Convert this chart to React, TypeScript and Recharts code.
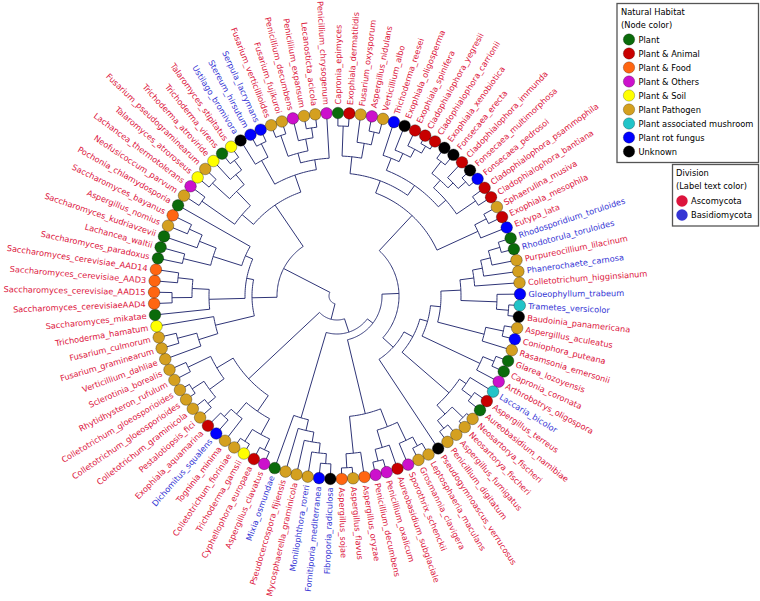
import React from 'react';
import { ComposedChart, Line, Scatter, XAxis, YAxis } from 'recharts';

// ---------- data ----------
const leafNames: string[] = [
  'Rhodosporidium_toruloides', 'Rhodotorula_toruloides', 'Purpureocillium_lilacinum', 'Phanerochaete_carnosa',
  'Colletotrichum_higginsianum', 'Gloeophyllum_trabeum', 'Trametes_versicolor', 'Baudoinia_panamericana',
  'Aspergillus_aculeatus', 'Coniophora_puteana', 'Rasamsonia_emersonii', 'Glarea_lozoyensis',
  'Capronia_coronata', 'Arthrobotrys_oligospora', 'Laccaria_bicolor', 'Aspergillus_terreus',
  'Aureobasidium_namibiae', 'Neosartorya_fischeri', 'Neosartorya_fischeri', 'Aspergillus_fumigatus',
  'Penicillium_digitatum', 'Pseudogymnoascus_verrucosus', 'Leptosphaeria_maculans', 'Grosmannia_clavigera',
  'Sporothrix_schenckii', 'Aureobasidium_subglaciale', 'Penicillium_oxalicum', 'Penicillium_decumbens',
  'Aspergillus_oryzae', 'Aspergillus_flavus', 'Aspergillus_sojae', 'Fibroporia_radiculosa',
  'Fomitiporia_mediterranea', 'Moniliophthora_roreri', 'Mycosphaerella_graminicola', 'Pseudocercospora_fijiensis',
  'Mixia_osmundae', 'Aspergillus_clavatus', 'Cyphellophora_europaea', 'Trichoderma_gamsii',
  'Colletotrichum_fioriniae', 'Togninia_minima', 'Dichomitus_squalens', 'Exophiala_aquamarina',
  'Pestalotiopsis_fici', 'Colletotrichum_graminicola', 'Colletotrichum_gloeosporioides', 'Colletotrichum_gloeosporioides',
  'Rhytidhysteron_rufulum', 'Sclerotinia_borealis', 'Verticillium_dahliae', 'Fusarium_graminearum',
  'Fusarium_culmorum', 'Trichoderma_hamatum', 'Saccharomyces_mikatae', 'Saccharomyces_cerevisiaeAAD4',
  'Saccharomyces_cerevisiae_AAD15', 'Saccharomyces_cerevisiae_AAD3', 'Saccharomyces_cerevisiae_AAD14', 'Saccharomyces_paradoxus',
  'Lachancea_waltii', 'Saccharomyces_kudriavzevii', 'Aspergillus_nomius', 'Saccharomyces_bayanus',
  'Pochonia_chlamydosporia', 'Neofusicoccum_parvum', 'Lachancea_thermotolerans', 'Talaromyces_atroroseus',
  'Fusarium_pseudograminearum', 'Trichoderma_atroviride', 'Trichoderma_virens', 'Talaromyces_stipitatus',
  'Ustilago_bromivora', 'Stereum_hirsutum', 'Serpula_lacrymans', 'Fusarium_verticillioides',
  'Fusarium_fujikuroi', 'Penicillium_decumbens', 'Penicillium_expansum', 'Lecanosticta_acicola',
  'Penicillium_chrysogenum', 'Capronia_epimyces', 'Exophiala_dermatitidis', 'Fusarium_oxysporum',
  'Aspergillus_nidulans', 'Verticillium_albo', 'Trichoderma_reesei', 'Exophiala_oligosperma',
  'Exophiala_spinifera', 'Cladophialophora_yegresii', 'Cladophialophora_carrionii', 'Exophiala_xenobiotica',
  'Fonsecaea_erecta', 'Cladophialophora_immunda', 'Fonsecaea_multimorphosa', 'Fonsecaea_pedrosoi',
  'Cladophialophora_psammophila', 'Cladophialophora_bantiana', 'Sphaerulina_musiva', 'Exophiala_mesophila',
  'Eutypa_lata',
];

// habitat code per leaf: G Plant, R Plant&Animal, O Plant&Food, M Plant&Others, Y Plant&Soil,
// P Plant Pathogen, C mushroom, B rot fungus, K unknown
const leafHabitat: string[] = [
  'G', 'G', 'P', 'P', 'P', 'B', 'C', 'K', 'P', 'B', 'P', 'G', 'G', 'M', 'C', 'R', 'G', 'P', 'P', 'P',
  'P', 'K', 'P', 'P', 'M', 'R', 'M', 'M', 'O', 'P', 'O', 'K', 'B', 'P', 'P', 'P', 'G', 'M', 'R', 'Y',
  'P', 'P', 'B', 'R', 'P', 'P', 'P', 'P', 'P', 'P', 'P', 'P', 'P', 'Y', 'G', 'O', 'O', 'O', 'O', 'G',
  'G', 'G', 'P', 'O', 'G', 'P', 'M', 'Y', 'P', 'Y', 'G', 'Y', 'K', 'B', 'B', 'P', 'P', 'M', 'P', 'P',
  'M', 'G', 'R', 'P', 'M', 'P', 'B', 'K', 'R', 'R', 'R', 'K', 'K', 'R', 'K', 'B', 'R', 'R', 'P', 'R',
  'B',
];

// leaves whose label is Basidiomycota (others Ascomycota)
const basidioLeaves: number[] = [0, 1, 3, 5, 6, 14, 31, 32, 33, 36, 42, 72, 73, 74];

const habitatCodes = ['G', 'R', 'O', 'M', 'Y', 'P', 'C', 'B', 'K'];
const habitatNames = [
  'Plant', 'Plant & Animal', 'Plant & Food', 'Plant & Others', 'Plant & Soil',
  'Plant Pathogen', 'Plant associated mushroom', 'Plant rot fungus', 'Unknown',
];
const habitatColors = [
  '#0b6b0b', '#c80000', '#ff6611', '#cc11cc', '#ffff00',
  '#d4a020', '#22c4c8', '#0000ff', '#000000',
];
const divisionNames = ['Ascomycota', 'Basidiomycota'];
const divisionColors = ['#dc143c', '#3434d4'];

// internal nodes: [id, radius (node depth), child A, child B]; numbers are leaf indices
type Child = number | string;
const treeNodes: [string, number, Child, Child][] = [
  // right side
  ['a01', 170, 0, 1], ['a012', 158, 'a01', 2], ['a0123', 148, 'a012', 3], ['a04', 138, 'a0123', 4],
  ['a67', 172, 6, 7], ['a57', 160, 5, 'a67'], ['aRA', 124, 'a04', 'a57'],
  ['a89', 170, 8, 9], ['a810', 152, 'a89', 10], ['aRB', 104, 'aRA', 'a810'],
  ['a1112', 170, 11, 12], ['a1113', 158, 'a1112', 13], ['aRC', 94, 'aRB', 'a1113'],
  ['a1516', 168, 15, 16], ['a1416', 156, 14, 'a1516'], ['a1718', 175, 17, 18], ['a1920', 170, 19, 20],
  ['a1720', 160, 'a1718', 'a1920'], ['a1420', 148, 'a1416', 'a1720'], ['aRD', 86, 'aRC', 'a1420'],
  ['aRE', 76, 'aRD', 21],
  // upper right
  ['a9899', 168, 98, 99], ['a98100', 155, 'a9899', 100],
  ['a8182', 170, 81, 82], ['a8485', 168, 84, 85], ['a8385', 155, 83, 'a8485'], ['aBYa', 140, 'a8182', 'a8385'],
  ['a8990', 174, 89, 90], ['a8890', 166, 88, 'a8990'], ['a8790', 157, 87, 'a8890'], ['a8690', 148, 86, 'a8790'],
  ['a9192', 170, 91, 92], ['a9495', 172, 94, 95], ['a9395', 162, 93, 'a9495'], ['a9195', 155, 'a9192', 'a9395'],
  ['a9697', 168, 96, 97], ['a9197', 145, 'a9195', 'a9697'], ['aBYb', 135, 'a8690', 'a9197'],
  ['aBY', 123, 'aBYa', 'aBYb'], ['aUR', 110, 'aBY', 'a98100'], ['aNR', 62, 'aUR', 'aRE'],
  // bottom
  ['a2930', 172, 29, 30], ['a2830', 158, 28, 'a2930'], ['a2627', 170, 26, 27], ['a2527', 158, 25, 'a2627'],
  ['a2223', 170, 22, 23], ['a2224', 160, 'a2223', 24], ['a2227', 140, 'a2224', 'a2527'], ['aB2', 121, 'a2227', 'a2830'],
  ['a3132', 168, 31, 32], ['a3133', 158, 'a3132', 33], ['a3134', 148, 'a3133', 34], ['a3135', 138, 'a3134', 35],
  ['aB1', 127, 'a3135', 36],
  // lower left
  ['a3738', 170, 37, 38], ['a3940', 172, 39, 40], ['a3740', 158, 'a3738', 'a3940'],
  ['a4243', 165, 42, 43], ['a4143', 155, 41, 'a4243'], ['aL2', 140, 'a3740', 'a4143'],
  ['a4445', 168, 44, 45], ['a4647', 172, 46, 47], ['a4447', 158, 'a4445', 'a4647'],
  ['a4849', 165, 48, 49], ['aL1', 140, 'a4447', 'a4849'], ['aL', 121, 'aL2', 'aL1'],
  // upper left
  ['a5152', 165, 51, 52], ['a5052', 145, 50, 'a5152'], ['aF', 125, 'a5052', 53],
  ['a5556', 165, 55, 56], ['a5758', 160, 57, 58], ['a5558', 145, 'a5556', 'a5758'], ['aS1', 128, 54, 'a5558'],
  ['a5960', 158, 59, 60], ['a6263', 162, 62, 63], ['a6163', 148, 61, 'a6263'], ['a5963', 130, 'a5960', 'a6163'],
  ['aS2', 100, 'a5963', 64], ['aS', 92, 'aS1', 'aS2'], ['aSAC', 85, 'aF', 'aS'],
  ['a6566', 165, 65, 66], ['a6768', 168, 67, 68], ['a7071', 170, 70, 71], ['a6971', 158, 69, 'a7071'],
  ['a6771', 145, 'a6768', 'a6971'], ['aT1', 125, 'a6566', 'a6771'],
  ['a7374', 170, 73, 74], ['a7274', 155, 72, 'a7374'], ['a7576', 170, 75, 76], ['a7879', 170, 78, 79],
  ['a7779', 160, 77, 'a7879'], ['a7579', 148, 'a7576', 'a7779'], ['a7580', 138, 'a7579', 80],
  ['aT2', 128, 'a7274', 'a7580'], ['aTOP', 110, 'aT1', 'aT2'], ['aUL', 60, 'aSAC', 'aTOP'],
  // root
  ['aS3', 45, 'aB2', 'aNR'], ['aS2x', 38, 'aB1', 'aS3'], ['aQ', 24, 'aL', 'aS2x'], ['root', 8, 'aUL', 'aQ'],
];

// ---------- layout ----------
const N = leafNames.length;
const STEP = 360 / N;
const FIRST_LEAF = 81;
const FIRST_ANGLE = -89.7;
const LEAF_R = 183;
const LINE_COLOR = '#2f3577';
const FONT = '"DejaVu Sans", Verdana, sans-serif';

const leafAngle = (i: number) => FIRST_ANGLE + STEP * ((i - FIRST_LEAF + N) % N);
const toXY = (r: number, deg: number) => {
  const a = (deg * Math.PI) / 180;
  return { x: r * Math.cos(a), y: r * Math.sin(a) };
};

const nodeInfo: Record<string, { r: number; angle: number }> = {};
const childInfo = (c: Child) =>
  typeof c === 'number' ? { r: LEAF_R, angle: leafAngle(c) } : nodeInfo[c];

const branches = treeNodes.map(([id, r, ca, cb]) => {
  const A = childInfo(ca);
  const B = childInfo(cb);
  nodeInfo[id] = { r, angle: (A.angle + B.angle) / 2 };
  const pts = [toXY(A.r, A.angle)];
  const n = Math.max(2, Math.ceil(Math.abs(B.angle - A.angle) / 1.2));
  for (let k = 0; k <= n; k++) pts.push(toXY(r, A.angle + ((B.angle - A.angle) * k) / n));
  pts.push(toXY(B.r, B.angle));
  return { id, pts };
});

const leafData = leafNames.map((name, i) => {
  const angle = leafAngle(i);
  const p = toXY(LEAF_R, angle);
  return {
    ...p,
    name,
    angle,
    color: habitatColors[habitatCodes.indexOf(leafHabitat[i])],
    textColor: divisionColors[basidioLeaves.includes(i) ? 1 : 0],
  };
});

const LeafShape = (props: any) => {
  const { cx, cy, payload } = props;
  const a = payload.angle;
  const right = Math.cos((a * Math.PI) / 180) > 0;
  const rot = right ? a : a - 180;
  return (
    <g>
      <text
        x={right ? cx + 8.5 : cx - 8.5}
        y={cy}
        transform={`rotate(${rot} ${cx} ${cy})`}
        textAnchor={right ? 'start' : 'end'}
        dominantBaseline="central"
        fontFamily={FONT}
        fontSize={8.2}
        fill={payload.textColor}
      >
        {payload.name}
      </text>
      <circle cx={cx} cy={cy} r={5.8} fill={payload.color} stroke="rgba(0,0,0,0.45)" strokeWidth={0.7} />
    </g>
  );
};

const LEG_FS = 8.3;
const Legends = () => (
  <svg width={760} height={601} style={{ position: 'absolute', left: 0, top: 0, pointerEvents: 'none' }}>
    <rect x={617} y={3.5} width={141.5} height={159} fill="#fff" stroke="#555" strokeWidth={1.3} />
    <text x={621} y={12} dominantBaseline="central" fontFamily={FONT} fontSize={LEG_FS} fill="#000">Natural Habitat</text>
    <text x={621} y={24.5} dominantBaseline="central" fontFamily={FONT} fontSize={LEG_FS} fill="#000">(Node color)</text>
    {habitatNames.map((h, k) => (
      <g key={h}>
        <circle cx={629} cy={39.5 + 14 * k} r={5.7} fill={habitatColors[k]} stroke="rgba(0,0,0,0.4)" strokeWidth={0.6} />
        <text x={638.5} y={39.5 + 14 * k} dominantBaseline="central" fontFamily={FONT} fontSize={LEG_FS} fill="#000">{h}</text>
      </g>
    ))}
    <rect x={672.5} y={164.5} width={86} height={61.5} fill="#fff" stroke="#555" strokeWidth={1.3} />
    <text x={676} y={173} dominantBaseline="central" fontFamily={FONT} fontSize={LEG_FS} fill="#000">Division</text>
    <text x={676} y={185.5} dominantBaseline="central" fontFamily={FONT} fontSize={LEG_FS} fill="#000">(Label text color)</text>
    {divisionNames.map((d, k) => (
      <g key={d}>
        <circle cx={682} cy={201 + 14 * k} r={5.7} fill={divisionColors[k]} />
        <text x={691} y={201 + 14 * k} dominantBaseline="central" fontFamily={FONT} fontSize={LEG_FS} fill="#000">{d}</text>
      </g>
    ))}
  </svg>
);

export default function App() {
  return (
    <div style={{ position: 'absolute', left: 0, top: 0, width: 760, height: 601, background: '#fff' }}>
      <style>{'body{margin:0}'}</style>
      <ComposedChart width={760} height={601} margin={{ top: 0, right: 0, bottom: 0, left: 0 }}>
        <XAxis type="number" dataKey="x" domain={[-337, 423]} hide allowDataOverflow />
        <YAxis type="number" dataKey="y" domain={[-296, 305]} reversed hide allowDataOverflow />
        {branches.map((b) => (
          <Line
            key={b.id}
            data={b.pts}
            dataKey="y"
            type="linear"
            stroke={LINE_COLOR}
            strokeWidth={1}
            dot={false}
            activeDot={false}
            isAnimationActive={false}
            legendType="none"
          />
        ))}
        <Scatter data={leafData} dataKey="y" shape={LeafShape} isAnimationActive={false} legendType="none" />
      </ComposedChart>
      <Legends />
    </div>
  );
}
